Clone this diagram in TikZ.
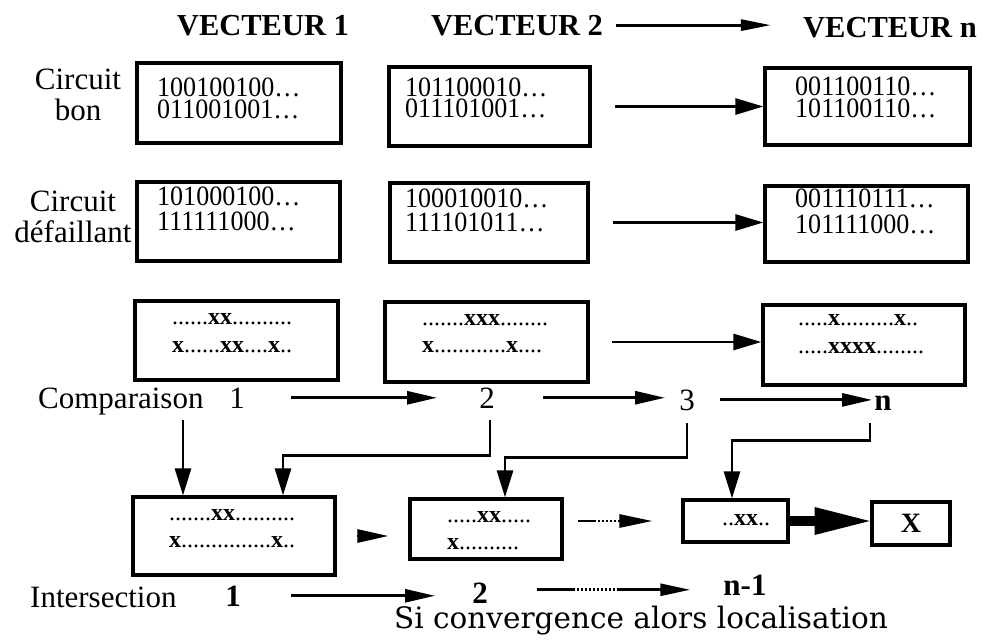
\documentclass[tikz,border=0pt]{standalone}
\usepackage{fontspec}
\setmainfont{Liberation Serif}
\newfontfamily\bitfont[FakeStretch=0.93]{Liberation Serif}
\newfontfamily\convfont{DejaVu Serif}
\usetikzlibrary{arrows.meta,calc}
\begin{document}
\begin{tikzpicture}[x=1pt,y=-1pt,
  box/.style={draw, line width=3.2pt, inner sep=0pt},
  lbl/.style={inner sep=0pt, font=\fontsize{31}{31}\selectfont},
  lblb/.style={inner sep=0pt, font=\fontsize{31}{31}\selectfont\bfseries},
  hdr/.style={inner sep=0pt, anchor=base, font=\fontsize{30.5}{31}\selectfont\bfseries},
  bits/.style={inner sep=0pt, anchor=base west, font=\bitfont\fontsize{28}{28}\selectfont},
  dts/.style={inner sep=0pt, anchor=base west, font=\fontsize{24}{24}\selectfont},
  conn/.style={line width=2.8pt},
  tipR/.style={-{Triangle[length=28pt,width=16pt]}},
  tipV/.style={-{Triangle[length=27pt,width=16pt]}},
  tipN/.style={-{Triangle[length=30pt,width=13pt]}}]
\useasboundingbox (0,0) rectangle (990,640);

% headers
\node[hdr] (v1) at (263,35) {VECTEUR 1};
\node[hdr] (v2) at (517,35) {VECTEUR 2};
\node[hdr] (vn) at (890,37) {VECTEUR n};
\draw[conn, -{Triangle[length=30pt,width=11pt]}, shorten <=13pt, shorten >=32pt] (v2.east) -- (v2.east -| vn.west);

% left labels
\node[lbl, align=center] (lb1) at (78,95) {Circuit\\bon};
\node[lbl, align=center] (lb2) at (73,217) {Circuit\\défaillant};

% row 1
\node[box, minimum width=204pt, minimum height=80pt] (b11) at (239,103) {};
\node[box, minimum width=201pt, minimum height=79pt] (b12) at (489.5,106.5) {};
\node[box, minimum width=205pt, minimum height=77pt] (b1n) at (867.5,106.5) {};
\node[bits] (t11a) at (157,96) {100100100…};
\node[bits] (t11b) at (157,118) {011001001…};
\node[bits] (t12a) at (405,96) {101100010…};
\node[bits] (t12b) at (405,117) {011101001…};
\node[bits] (t1na) at (795,95) {001100110…};
\node[bits] (t1nb) at (795,117) {101100110…};
\draw[conn, tipR, shorten <=23pt] (b12.east) -- (b12.east -| b1n.west);

% row 2
\node[box, minimum width=203pt, minimum height=79pt] (b21) at (238.5,221.5) {};
\node[box, minimum width=198pt, minimum height=79pt] (b22) at (489,222.5) {};
\node[box, minimum width=203pt, minimum height=76pt] (b2n) at (866.5,224) {};
\node[bits] (t21a) at (157,205) {101000100…};
\node[bits] (t21b) at (157,230) {111111000…};
\node[bits] (t22a) at (405,207) {100010010…};
\node[bits] (t22b) at (405,231) {111101011…};
\node[bits] (t2na) at (795,207) {001110111…};
\node[bits] (t2nb) at (795,233) {101111000…};
\draw[conn, tipR, shorten <=23pt] (b22.east) -- (b22.east -| b2n.west);

% row 3
\node[box, minimum width=203pt, minimum height=79pt] (b31) at (236.5,340.5) {};
\node[box, minimum width=203pt, minimum height=80pt] (b32) at (486.5,342) {};
\node[box, minimum width=202pt, minimum height=80pt] (b3n) at (864,345) {};
\node[dts] (t31a) at (172,324) {......\textbf{xx}..........};
\node[dts] (t31b) at (172,352) {\textbf{x}......\textbf{xx}....\textbf{x}..};
\node[dts] (t32a) at (422,325) {.......\textbf{xxx}........};
\node[dts] (t32b) at (422,352) {\textbf{x}............\textbf{x}....};
\node[dts] (t3na) at (798,325) {.....\textbf{x}.........\textbf{x}..};
\node[dts] (t3nb) at (798,353) {.....\textbf{xxxx}........};
\draw[conn, tipR, shorten <=22pt] (b32.east) -- (b32.east -| b3n.west);

% comparison row
\node[lbl, anchor=base west] (lcmp) at (38,408) {Comparaison};
\node[lbl, anchor=base] (c1) at (237,408) {1};
\node[lbl, anchor=base] (c2) at (487,408) {2};
\node[lbl, anchor=base] (c3) at (687,410) {3};
\node[lblb, anchor=base] (cn) at (883,410) {n};
\draw[conn, tipN, shorten <=46pt, shorten >=50pt] (c1) -- (c1 -| c2);
\draw[conn, tipN, shorten <=48pt, shorten >=22pt] (c2) -- (c2 -| c3);
\draw[conn, tipN, shorten <=25pt, shorten >=11pt] (c3) -- (c3 -| cn);

% intersection row
\node[box, minimum width=202pt, minimum height=78pt] (i1) at (234,536) {};
\node[box, minimum width=152pt, minimum height=60pt] (i2) at (486,529) {};
\node[box, minimum width=105pt, minimum height=42pt] (i3) at (735.5,521) {};
\node[box, line width=4.8pt, minimum width=78pt, minimum height=43pt, font=\fontsize{28}{28}\selectfont\bfseries] (ix) at (911,523.5) {X};
\node[dts] (ti1a) at (169,520) {.......\textbf{xx}..........};
\node[dts] (ti1b) at (169,547) {\textbf{x}...............\textbf{x}..};
\node[dts] (ti2a) at (447,522) {.....\textbf{xx}.....};
\node[dts] (ti2b) at (447,549) {\textbf{x}..........};
\node[dts] (ti3a) at (722,525) {..\textbf{xx}..};

% vertical connectors
\draw[conn, tipV] ($(c1.south -| i1.north)+(-51,12)$) -- ($(i1.north)+(-51,0)$);
\draw[conn, tipV] ($(c2.south)+(3,12)$) -- ($(c2.south)+(3,47)$) -| ($(i1.north)+(49,0)$);
\draw[conn, tipV] ($(c3.south)+(0,12)$) -- ($(c3.south)+(0,47)$) -| ($(i2.north)+(19,0)$);
\draw[conn, tipV] ($(cn.south)+(-13,13)$) -- ($(cn.south)+(-13,30)$) -| ($(i3.north)+(-3.5,0)$);

% intersection connectors
\draw[conn, -{Triangle[length=31pt,width=13pt]}, shorten <=20pt, shorten >=20pt] (i1.east) -- (i1.east -| i2.west);
\draw[line width=2.8pt, -{Triangle[length=33pt,width=13pt]},
  dash pattern=on 18pt off 2pt on 2pt off 2pt on 2pt off 2pt on 2pt off 2pt on 2pt off 2pt on 2pt off 2pt on 2pt off 3pt]
  ($(i2.east |- i3.west)+(14,0)$) -- ($(i3.west)+(-29,0)$);
\draw[line width=10pt, -{Triangle[length=55pt,width=28pt,line width=0pt]}] (i3.east) -- (i3.east -| ix.west);

% bottom labels
\node[lbl, anchor=base west] (lint) at (30,607) {Intersection};
\node[lblb, anchor=base] (d1) at (233,606) {1};
\node[lblb, anchor=base] (d2) at (480,603) {2};
\node[lblb, anchor=base] (dn) at (745,595) {n-1};
\draw[conn, tipN, shorten <=50pt, shorten >=45pt] (d1) -- (d1 -| d2);
\draw[conn, -{Triangle[length=30pt,width=12pt]},
  dash pattern=on 38pt off 2pt on 2pt off 2pt on 2pt off 2pt on 2pt off 2pt on 2pt off 2pt on 2pt off 2pt on 2pt off 2pt on 2pt off 2pt on 2pt off 2pt on 2pt off 2pt on 2pt off 2pt on 60pt off 1pt,
  shorten <=57pt] ($(d2 |- dn)+(0,5)$) -- ($(dn.west)+(-33,5)$);
\node[inner sep=0pt, anchor=base west, font=\convfont\fontsize{29.5}{30}\selectfont] (conv) at (394,628) {Si convergence alors localisation};
\end{tikzpicture}
\end{document}
